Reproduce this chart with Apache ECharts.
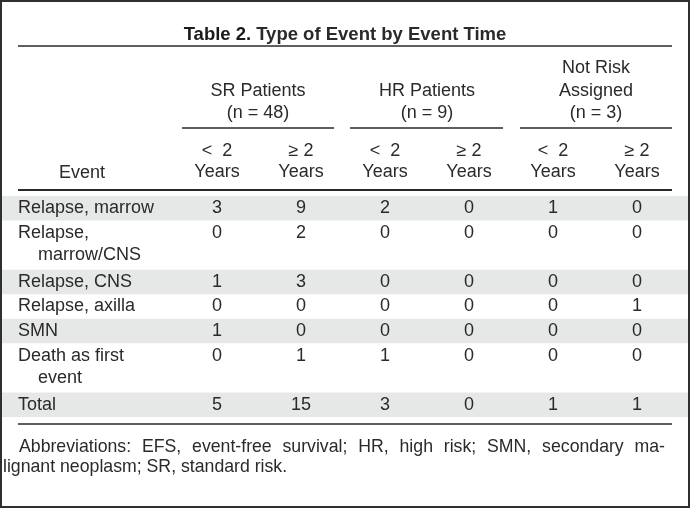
<!DOCTYPE html>
<html><head><meta charset="utf-8">
<script src="https://cdn.jsdelivr.net/npm/echarts@6/dist/echarts.min.js"></script>
<style>html,body{margin:0;padding:0;background:#fff}#c{width:690px;height:508px}</style>
</head><body><div id="c"></div>
<script>
// ---- data ----
const titleBold = 'Table 2.';
const titleText = 'Type of Event by Event Time';
const groupHeaders = ['SR Patients\n(n = 48)', 'HR Patients\n(n = 9)', 'Not Risk\nAssigned\n(n = 3)'];
const columnHeaders = ['<  2\nYears', '≥ 2\nYears', '<  2\nYears', '≥ 2\nYears', '<  2\nYears', '≥ 2\nYears'];
const eventHeader = 'Event';
const events = [
  ['Relapse, marrow'],
  ['Relapse,', 'marrow/CNS'],
  ['Relapse, CNS'],
  ['Relapse, axilla'],
  ['SMN'],
  ['Death as first', 'event'],
  ['Total']
];
const srUnder2 = [3, 0, 1, 0, 1, 0, 5];
const srOver2 = [9, 2, 3, 0, 0, 1, 15];
const hrUnder2 = [2, 0, 0, 0, 0, 1, 3];
const hrOver2 = [0, 0, 0, 0, 0, 0, 0];
const nraUnder2 = [1, 0, 0, 0, 0, 0, 1];
const nraOver2 = [0, 0, 0, 1, 0, 0, 1];
const footLine1 = 'Abbreviations: EFS, event-free survival; HR, high risk; SMN, secondary ma-';
const footLine2 = 'lignant neoplasm; SR, standard risk.';

// ---- layout ----
const FONT = '"Liberation Sans", Arial, sans-serif';
const FS = 18;
const FFS = 17.7;
const TXT = '#2a2a2a';
const SHADE = '#e6e7e7';
const RULE = '#2a2a2a';

const valueCols = [srUnder2, srOver2, hrUnder2, hrOver2, nraUnder2, nraOver2];
const rowLines = events.map(e => e.length);
const rowStart = [];
let acc = 0;
rowLines.forEach(n => { rowStart.push(acc); acc += n; });
const totalUnits = acc;

const cellData = [];
valueCols.forEach((col, c) => col.forEach((v, r) => cellData.push([c, rowStart[r] + 0.5, v])));
const rowData = events.map((e, i) => [i]);

const chart = echarts.init(document.getElementById('c'), null, {renderer: 'canvas'});

function hline(x1, x2, y, w) {
  return {type: 'line', shape: {x1, y1: y, x2, y2: y}, style: {stroke: RULE, lineWidth: w}, silent: true};
}
function txt(x, y, text, align, vAlign, fs, lh) {
  return {type: 'text', x, y, silent: true,
    style: {text, font: (fs || FS) + 'px ' + FONT, fill: TXT, align, verticalAlign: vAlign,
            textAlign: align, textVerticalAlign: vAlign, lineHeight: lh || 22.5}};
}

// justified first footnote line
const measureCtx = document.createElement('canvas').getContext('2d');
measureCtx.font = FFS + 'px ' + FONT;
const words = footLine1.split(' ');
const wWidths = words.map(w => measureCtx.measureText(w).width);
const jLeft = 19, jRight = 665;
const gap = (jRight - jLeft - wWidths.reduce((a, b) => a + b, 0)) / (words.length - 1);
const footGraphics = [];
let cx = jLeft;
words.forEach((w, i) => {
  footGraphics.push(txt(cx, 447, w, 'left', 'middle', FFS));
  cx += wWidths[i] + gap;
});
footGraphics.push(txt(3, 467, footLine2, 'left', 'middle', FFS));

const option = {
  animation: false,
  backgroundColor: '#fff',
  title: {
    left: 'center', top: 20,
    text: '{b|' + titleBold + '} {n|' + titleText + '}',
    textStyle: {
      rich: {
        b: {fontFamily: FONT, fontSize: 18.5, fontWeight: 'bold', color: '#1a1a1a'},
        n: {fontFamily: FONT, fontSize: 18.5, color: TXT}
      }
    }
  },
  grid: {left: 175, right: 11, top: 196, bottom: 91, containLabel: false},
  xAxis: {
    type: 'category', data: columnHeaders, position: 'top',
    axisLine: {show: false}, axisTick: {show: false}, splitLine: {show: false},
    axisLabel: {fontFamily: FONT, fontSize: FS, color: TXT, lineHeight: 21, margin: 13, interval: 0}
  },
  yAxis: {
    type: 'value', inverse: true, min: 0, max: totalUnits,
    show: false
  },
  series: [
    {
      type: 'custom', silent: true, z: 1,
      data: rowData,
      renderItem: function (params, api) {
        const i = api.value(0);
        const y0 = api.coord([0, rowStart[i]])[1];
        const y1 = api.coord([0, rowStart[i] + rowLines[i]])[1];
        const children = [];
        if (i % 2 === 0) {
          children.push({type: 'rect', shape: {x: 2, y: y0, width: api.getWidth() - 4, height: y1 - y0},
            style: {fill: SHADE}});
        }
        events[i].forEach((line, k) => {
          const yc = api.coord([0, rowStart[i] + 0.5 + k * 0.9])[1];
          children.push({type: 'text', style: {text: line, x: k === 0 ? 18 : 38, y: yc,
            font: FS + 'px ' + FONT, fill: TXT, align: 'left', verticalAlign: 'middle',
            textAlign: 'left', textVerticalAlign: 'middle'}});
        });
        return {type: 'group', children};
      }
    },
    {
      type: 'custom', silent: true, z: 2,
      data: cellData,
      renderItem: function (params, api) {
        const p = api.coord([api.value(0), api.value(1)]);
        return {type: 'text', style: {text: String(api.value(2)), x: p[0], y: p[1],
          font: FS + 'px ' + FONT, fill: TXT, align: 'center', verticalAlign: 'middle',
          textAlign: 'center', textVerticalAlign: 'middle'}};
      }
    }
  ],
  graphic: [
    {type: 'rect', shape: {x: 1, y: 1, width: 688, height: 506}, style: {fill: 'none', stroke: '#2f2f2f', lineWidth: 2}, silent: true, z: 100},
    hline(18, 672, 46, 1.5),
    hline(182, 334, 128, 1.5),
    hline(350, 503, 128, 1.5),
    hline(520, 672, 128, 1.5),
    hline(18, 672, 190, 2),
    hline(18, 672, 424, 1.5),
    txt(258, 124.5, groupHeaders[0], 'center', 'bottom'),
    txt(427, 124.5, groupHeaders[1], 'center', 'bottom'),
    txt(596, 124.5, groupHeaders[2], 'center', 'bottom'),
    txt(82, 173, eventHeader, 'center', 'middle')
  ].concat(footGraphics)
};
chart.setOption(option);
</script>
</body></html>
